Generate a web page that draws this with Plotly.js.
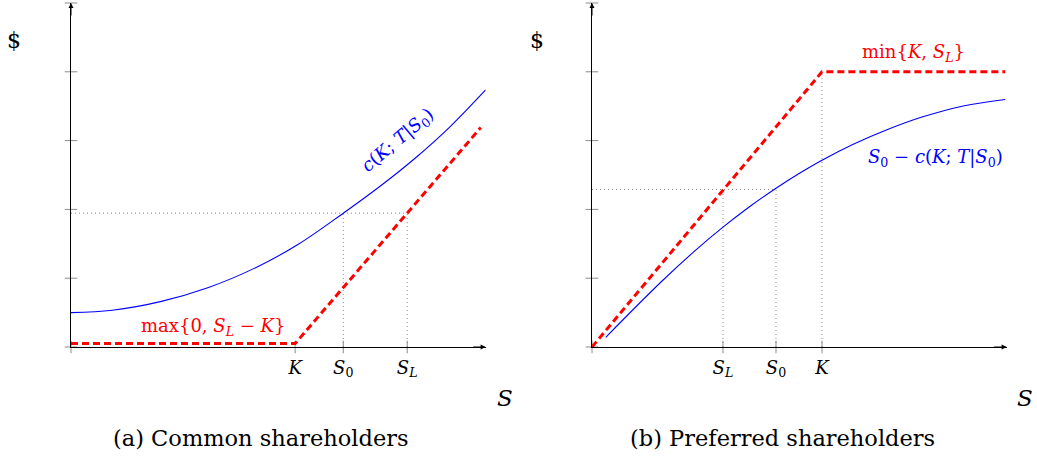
<!DOCTYPE html>
<html>
<head>
<meta charset="utf-8">
<script src="https://cdn.plot.ly/plotly-3.0.1.min.js"></script>
<style>html,body{margin:0;padding:0;background:#fff;}#chart{width:1037px;height:457px;}</style>
</head>
<body>
<div id="chart"></div>
<script>
// ---------- Panel (a): common shareholders ----------
const tickLabelsA = ['<i>K</i>', '<i>S</i><sub>0</sub>', '<i>S</i><sub><i>L</i></sub>'];
const tickValsA = [3.26, 3.96, 4.89];          // K, S0, SL
const callS = [0, 0.6, 1.3, 2.0, 2.7, 3.3, 3.96, 4.5, 5.0, 5.5, 6.03];
const callV = [0.50, 0.535, 0.66, 0.865, 1.16, 1.49, 1.945, 2.34, 2.74, 3.19, 3.738];
const payoffAS = [0, 3.26, 5.96];
const payoffAV = [0.05, 0.05, 3.19];
const levelA = 1.945;                           // c(K;T|S0) = max{0,SL-K}

// ---------- Panel (b): preferred shareholders ----------
const tickLabelsB = ['<i>S</i><sub><i>L</i></sub>', '<i>S</i><sub>0</sub>', '<i>K</i>'];
const tickValsB = [1.905, 2.676, 3.345];       // SL, S0, K
const equityS = [0.2, 1.0, 1.5, 1.91, 2.3, 2.66, 3.0, 3.345, 3.8, 4.29, 4.8, 5.4, 6.01];
const equityV = [0.141, 0.941, 1.401, 1.745, 2.045, 2.297, 2.515, 2.715, 2.947, 3.158, 3.342, 3.504, 3.598];
const payoffBS = [0, 3.345, 6.01];
const payoffBV = [0, 4.0, 4.0];
const levelB = 2.29;                            // S0 - c = min{K,SL}

const yTickVals = [0, 1, 2, 3, 4, 5];
const xMax = 6.03, yMax = 5;

const FONT = 'DejaVu Serif, serif';
const BLUE = '#0000ff', RED = '#ff0000', GRAY = '#8c8c8c';

function dottedA() {
  const x = [0, tickValsA[2], null, tickValsA[1], tickValsA[1], null, tickValsA[2], tickValsA[2]];
  const y = [levelA, levelA, null, 0, levelA, null, 0, levelA];
  return {x, y};
}
function dottedB() {
  const x = [0, tickValsB[1], null, tickValsB[0], tickValsB[0], null, tickValsB[1], tickValsB[1], null, tickValsB[2], tickValsB[2]];
  const y = [levelB, levelB, null, 0, levelB, null, 0, levelB, null, 0, payoffBV[1]];
  return {x, y};
}

const dA = dottedA(), dB = dottedB();
const dotLine = {color: GRAY, width: 1, dash: '1px,3px'};

function tickTraces(xa, ya, xv) {
  return [
    {x: yTickVals.map(() => 0), y: yTickVals, xaxis: xa, yaxis: ya, mode: 'markers', cliponaxis: false,
     marker: {symbol: 'line-ew', size: 9, line: {color: GRAY, width: 1}}, hoverinfo: 'skip'},
    {x: [0].concat(xv), y: [0].concat(xv.map(() => 0)), xaxis: xa, yaxis: ya, mode: 'markers', cliponaxis: false,
     marker: {symbol: 'line-ns', size: 9, line: {color: GRAY, width: 1}}, hoverinfo: 'skip'}
  ];
}

const data = [
  {x: dA.x, y: dA.y, xaxis: 'x', yaxis: 'y', mode: 'lines', line: dotLine, connectgaps: false, cliponaxis: false},
  ...tickTraces('x', 'y', tickValsA),
  {x: callS, y: callV, xaxis: 'x', yaxis: 'y', mode: 'lines', line: {color: BLUE, width: 1.1, shape: 'spline'}, cliponaxis: false},
  {x: payoffAS, y: payoffAV, xaxis: 'x', yaxis: 'y', mode: 'lines', line: {color: RED, width: 3, dash: '7px,4px'}, cliponaxis: false},

  {x: dB.x, y: dB.y, xaxis: 'x2', yaxis: 'y2', mode: 'lines', line: dotLine, connectgaps: false, cliponaxis: false},
  ...tickTraces('x2', 'y2', tickValsB),
  {x: equityS, y: equityV, xaxis: 'x2', yaxis: 'y2', mode: 'lines', line: {color: BLUE, width: 1.1, shape: 'spline'}, cliponaxis: false},
  {x: payoffBS, y: payoffBV, xaxis: 'x2', yaxis: 'y2', mode: 'lines', line: {color: RED, width: 3, dash: '7px,4px'}, cliponaxis: false}
];

const W = 1037, H = 457;
function xAxis(domain, vals, labels) {
  return {domain, range: [0, xMax], showline: true, linecolor: '#000', linewidth: 1, showgrid: false, zeroline: false,
          ticks: '', tickvals: vals, ticktext: labels, tickfont: {family: FONT, size: 18, color: '#000'},
          ticklabelstandoff: 4, fixedrange: true};
}
function yAxis(anchor) {
  return {domain: [(H - 347) / H, (H - 3) / H], range: [0, yMax], showline: true, linecolor: '#000', linewidth: 1,
          showgrid: false, zeroline: false, showticklabels: false, ticks: '', anchor, fixedrange: true};
}

function arrows(xr, yr) {
  return [
    {xref: xr, yref: yr, x: xMax, y: 0, ax: -14, ay: 0, text: '', showarrow: true, arrowhead: 2, arrowsize: 1, arrowwidth: 1, arrowcolor: '#000', standoff: 0},
    {xref: xr, yref: yr, x: 0, y: yMax, ax: 0, ay: 14, text: '', showarrow: true, arrowhead: 2, arrowsize: 1, arrowwidth: 1, arrowcolor: '#000', standoff: 0}
  ];
}
function paperText(px, py, text, size, color) {
  return {xref: 'paper', yref: 'paper', x: px / W, y: 1 - py / H, xanchor: 'center', yanchor: 'middle',
          text, showarrow: false, font: {family: FONT, size, color: color || '#000'}};
}

const annotations = [
  ...arrows('x', 'y'), ...arrows('x2', 'y2'),
  paperText(14, 40, '$', 22), paperText(537, 40, '$', 22),
  paperText(505, 398, '<i>S</i>', 23), paperText(1025, 398, '<i>S</i>', 23),
  paperText(261, 438, '(a) Common shareholders', 22.5), paperText(782, 438, '(b) Preferred shareholders', 22.5),
  {xref: 'x', yref: 'y', x: 2.065, y: 0.29, text: 'max{0, <i>S</i><sub><i>L</i></sub> − <i>K</i>}', showarrow: false,
   font: {family: FONT, size: 18, color: RED}},
  {xref: 'x', yref: 'y', x: 4.75, y: 3.0, text: '<i>c</i>(<i>K</i>; <i>T</i>|<i>S</i><sub>0</sub>)', showarrow: false, textangle: -40,
   font: {family: FONT, size: 18, color: BLUE}},
  {xref: 'x2', yref: 'y2', x: 4.67, y: 4.28, text: 'min{<i>K</i>, <i>S</i><sub><i>L</i></sub>}', showarrow: false,
   font: {family: FONT, size: 18, color: RED}},
  {xref: 'x2', yref: 'y2', x: 5.0, y: 2.75, text: '<i>S</i><sub>0</sub> − <i>c</i>(<i>K</i>; <i>T</i>|<i>S</i><sub>0</sub>)', showarrow: false,
   font: {family: FONT, size: 18, color: BLUE}}
];

const layout = {
  width: W, height: H, margin: {l: 0, r: 0, t: 0, b: 0}, showlegend: false,
  paper_bgcolor: '#fff', plot_bgcolor: 'rgba(0,0,0,0)',
  xaxis: xAxis([71 / W, (71 + 414.6) / W], tickValsA, tickLabelsA),
  yaxis: yAxis('x'),
  xaxis2: Object.assign(xAxis([592 / W, (592 + 414.6) / W], tickValsB, tickLabelsB), {anchor: 'y2'}),
  yaxis2: yAxis('x2'),
  annotations
};
layout.xaxis.anchor = 'y';

Plotly.newPlot('chart', data, layout, {displayModeBar: false, staticPlot: true});
</script>
</body>
</html>
